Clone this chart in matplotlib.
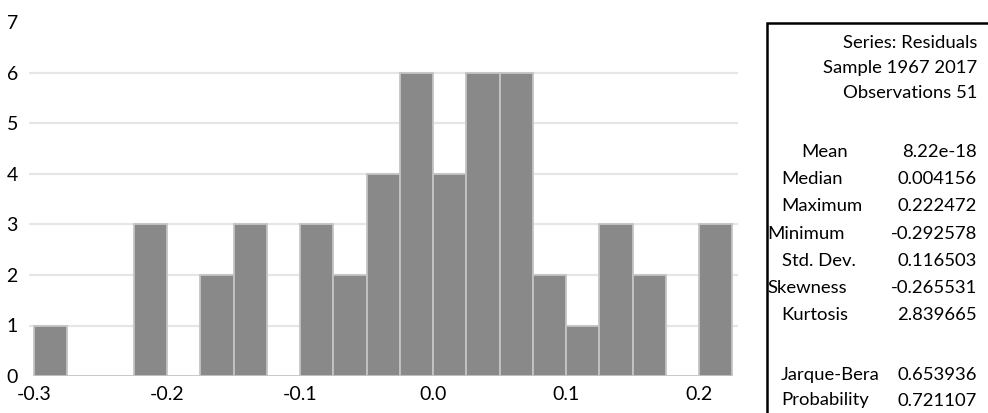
import matplotlib
matplotlib.use("Agg")
import matplotlib.pyplot as plt
from matplotlib.patches import Rectangle

# ---- data ----
bin_edges = [-0.300, -0.275, -0.250, -0.225, -0.200, -0.175, -0.150, -0.125,
             -0.100, -0.075, -0.050, -0.025, 0.000, 0.025, 0.050, 0.075,
             0.100, 0.125, 0.150, 0.175, 0.200, 0.225]
counts = [1, 0, 0, 3, 0, 2, 3, 0,
          3, 2, 4, 6, 4, 6, 6, 2,
          1, 3, 2, 0, 3]
x_ticks = [-0.3, -0.2, -0.1, 0.0, 0.1, 0.2]
x_tick_labels = ["-0.3", "-0.2", "-0.1", "0.0", "0.1", "0.2"]
y_ticks = [0, 1, 2, 3, 4, 5, 6, 7]

header_lines = ["Series: Residuals", "Sample 1967 2017", "Observations 51"]
stat_names = ["Mean", "Median", "Maximum", "Minimum", "Std. Dev.",
              "Skewness", "Kurtosis"]
stat_values = ["8.22e-18", "0.004156", "0.222472", "-0.292578", "0.116503",
               "-0.265531", "2.839665"]
test_names = ["Jarque-Bera", "Probability"]
test_values = ["0.653936", "0.721107"]

# ---- layout ----
W, H = 988, 413
fig = plt.figure(figsize=(W / 100, H / 100), dpi=100)
plt.rcParams['font.family'] = ['Lato', 'DejaVu Sans']

ax = fig.add_axes([29 / W, 1 - 376 / H, (738 - 29) / W, (376 - 22.5) / H])
widths = [bin_edges[i + 1] - bin_edges[i] for i in range(len(counts))]
ax.bar(bin_edges[:-1], counts, width=widths, align='edge',
       color='#898989', edgecolor='#c4c4c4', linewidth=1.3, zorder=3)
ax.set_xlim(-0.30376, 0.2293)
ax.set_ylim(0, 7)
ax.set_xticks(x_ticks)
ax.set_xticklabels(x_tick_labels)
ax.set_yticks(y_ticks)
for y in y_ticks[1:-1]:
    ax.axhline(y, color='#e6e6e6', linewidth=1.6, zorder=1)
for s in ax.spines.values():
    s.set_visible(False)
ax.tick_params(axis='both', length=0, labelsize=14, colors='black')
ax.tick_params(axis='x', pad=7)
ax.tick_params(axis='y', pad=8)

# ---- statistics box ----
def fx(px):
    return px / W

def fy(py):
    return 1 - py / H

box = Rectangle((fx(767), fy(H + 10)), fx(W + 20) - fx(767), fy(23) - fy(H + 10),
                transform=fig.transFigure, fill=False, edgecolor='black',
                linewidth=1.8, clip_on=False)
fig.patches.append(box)

fs = 13.3
right_x = 977
for i, line in enumerate(header_lines):
    fig.text(fx(right_x), fy(43 + i * 25), line, ha='right', va='center',
             fontsize=fs)

name_left = [801, 781, 781, 767, 782, 767, 781]
for i, (n, v) in enumerate(zip(stat_names, stat_values)):
    y = 152 + i * 27.2
    fig.text(fx(name_left[i]), fy(y), n, ha='left', va='center', fontsize=fs)
    fig.text(fx(right_x), fy(y), v, ha='right', va='center', fontsize=fs)

for i, (n, v) in enumerate(zip(test_names, test_values)):
    y = 375 + i * 25.5
    fig.text(fx(781), fy(y), n, ha='left', va='center', fontsize=fs)
    fig.text(fx(right_x), fy(y), v, ha='right', va='center', fontsize=fs)

fig.savefig("out.png", dpi=100)
